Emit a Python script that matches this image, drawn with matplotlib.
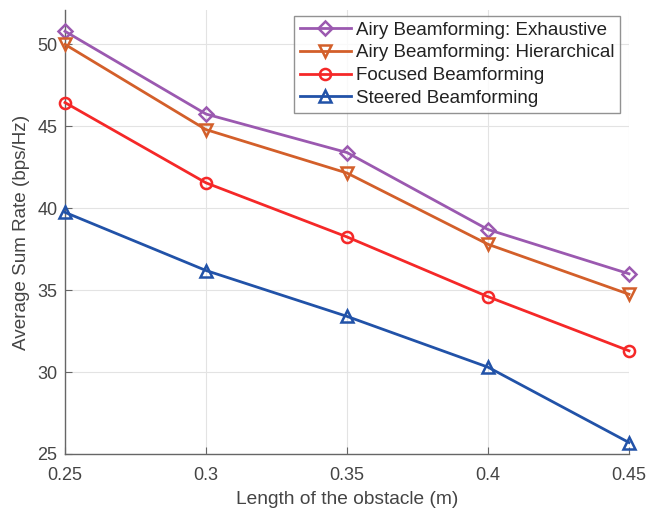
import matplotlib
matplotlib.use("Agg")
import matplotlib.pyplot as plt

plt.rcParams['font.family'] = ['Liberation Sans', 'DejaVu Sans']

x = [0.25, 0.3, 0.35, 0.4, 0.45]
airy_exh = [50.8, 45.75, 43.4, 38.7, 36.0]
airy_hier = [50.0, 44.8, 42.15, 37.8, 34.75]
focused = [46.45, 41.55, 38.25, 34.6, 31.3]
steered = [39.75, 36.2, 33.4, 30.3, 25.7]
labels = ["Airy Beamforming: Exhaustive", "Airy Beamforming: Hierarchical",
          "Focused Beamforming", "Steered Beamforming"]
xticks = [0.25, 0.3, 0.35, 0.4, 0.45]
xticklabels = ["0.25", "0.3", "0.35", "0.4", "0.45"]
yticks = [25, 30, 35, 40, 45, 50]

colors = ["#9B59B0", "#D35F2A", "#F52828", "#2152A8"]
markers = ["D", "v", "o", "^"]
msizes = [7, 9, 8, 9]

fig = plt.figure(figsize=(6.57, 5.08), dpi=100)
left, right, bottom, top = 65 / 657, 629 / 657, 1 - 454 / 508, 1 - 10 / 508
ax = fig.add_axes([left, bottom, right - left, top - bottom])

for ys, c, m, ms, lab in zip([airy_exh, airy_hier, focused, steered], colors, markers, msizes, labels):
    ax.plot(x, ys, color=c, marker=m, markersize=ms, markerfacecolor='none',
            markeredgewidth=1.8, linewidth=2, label=lab, clip_on=False, zorder=3)

ax.set_xlim(0.25, 0.45)
ax.set_ylim(25, 52.1)
ax.set_xticks(xticks)
ax.set_xticklabels(xticklabels)
ax.set_yticks(yticks)
ax.grid(True, color='#E3E3E3', linewidth=0.8)
ax.set_axisbelow(True)
for s in ['top', 'right']:
    ax.spines[s].set_visible(False)
for s in ['left', 'bottom']:
    ax.spines[s].set_color('#666666')
    ax.spines[s].set_linewidth(1.0)
ax.tick_params(axis='both', direction='in', length=5, color='#666666',
               labelcolor='#444444', labelsize=13)
ax.tick_params(axis='x', pad=9.5)
ax.tick_params(axis='y', pad=5.5)
ax.set_xlabel("Length of the obstacle (m)", fontsize=13.8, color='#444444', labelpad=5)
ax.set_ylabel("Average Sum Rate (bps/Hz)", fontsize=13.6, color='#444444', labelpad=5)

leg = ax.legend(loc='upper right', bbox_to_anchor=(0.984, 0.9865), fontsize=13.5,
                frameon=True, fancybox=False, edgecolor='#777777',
                handlelength=2.72, handletextpad=0.27, borderpad=0.3,
                labelspacing=0.3, borderaxespad=0)
leg.get_frame().set_linewidth(1.0)
for t in leg.get_texts():
    t.set_color('#222222')

fig.savefig("out.png", dpi=100)
